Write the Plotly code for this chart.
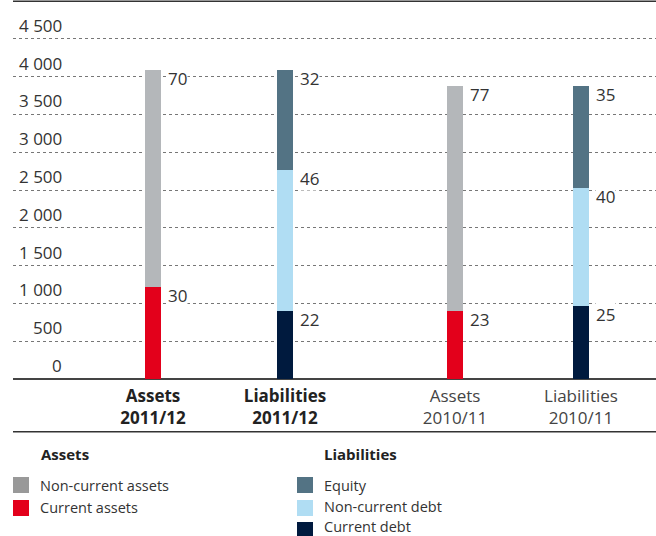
import plotly.graph_objects as go

# Balance sheet structure, EUR million
years = ["2011/12", "2010/11"]
current_assets = [1215, 900]
non_current_assets = [2870, 2980]
current_debt = [895, 970]
non_current_debt = [1875, 1555]
equity = [1315, 1355]

y_ticks = [0, 500, 1000, 1500, 2000, 2500, 3000, 3500, 4000, 4500]
y_tick_text = ["0", "500", "1 000", "1 500", "2 000", "2 500", "3 000", "3 500", "4 000", "4 500"]

# slot of each column on the x axis: (assets, liabilities) per year
slots = [(0.0, 1.0), (2.288, 3.242)]

C_NONCUR_ASSETS = "#b4b7ba"
C_NONCUR_ASSETS_KEY = "#999999"
C_CUR_ASSETS = "#e3001b"
C_EQUITY = "#537384"
C_NONCUR_DEBT = "#b0ddf3"
C_CUR_DEBT = "#001a3e"
TXT = "#333333"
FONT = "Open Sans"

W, H = 656, 536
ML, MR, MT, MB = 13, 0, 1, 157
PW, PH = W - ML - MR, H - MT - MB


def px_x(px):
    return (px - ML) / PW


def px_y(py):
    return (H - MB - py) / PH


fig = go.Figure()

bar_w = 16 / 132
asset_x = [s[0] for s in slots]
liab_x = [s[1] for s in slots]

series = [
    (asset_x, current_assets, C_CUR_ASSETS),
    (asset_x, non_current_assets, C_NONCUR_ASSETS),
    (liab_x, current_debt, C_CUR_DEBT),
    (liab_x, non_current_debt, C_NONCUR_DEBT),
    (liab_x, equity, C_EQUITY),
]
for xs, vals, col in series:
    fig.add_trace(go.Bar(x=xs, y=vals, width=bar_w, marker=dict(color=col, line=dict(width=0)),
                         showlegend=False, hoverinfo="skip"))

annotations = []


def share_labels(xs, stacks):
    for i, x in enumerate(xs):
        total = sum(s[i] for s in stacks)
        base = 0
        for s in stacks:
            top = base + s[i]
            annotations.append(dict(
                x=x, y=top, xref="x", yref="y", xanchor="left", yanchor="top",
                xshift=14, yshift=4, text=str(round(100 * s[i] / total)), showarrow=False,
                font=dict(family=FONT, size=17, color=TXT), bgcolor="white", borderpad=0))
            base = top


share_labels(asset_x, [current_assets, non_current_assets])
share_labels(liab_x, [current_debt, non_current_debt, equity])

# y tick labels sit above their gridlines
for v, t in zip(y_ticks, y_tick_text):
    annotations.append(dict(x=px_x(64), y=v, xref="paper", yref="y", xanchor="right", yanchor="bottom",
                            yshift=0, text=t, showarrow=False,
                            font=dict(family=FONT, size=17, color=TXT)))

# key
def key_header(px, py, text):
    annotations.append(dict(x=px_x(px - 3), y=px_y(py), xref="paper", yref="paper", xanchor="left",
                            yanchor="middle", text="<b>%s</b>" % text, showarrow=False,
                            font=dict(family=FONT, size=15, color="#222222")))


shapes = []


def key_item(px, py, color, text, text_py):
    shapes.append(dict(type="rect", xref="paper", yref="paper", x0=px_x(px), x1=px_x(px + 16),
                       y0=px_y(py - 8), y1=px_y(py + 8), fillcolor=color, line=dict(width=0)))
    annotations.append(dict(x=px_x(px + 26), y=px_y(text_py), xref="paper", yref="paper",
                            xanchor="left", yanchor="middle", text=text, showarrow=False,
                            borderpad=0, font=dict(family=FONT, size=14.5, color=TXT)))


key_header(42, 454, "Assets")
key_item(13, 485, C_NONCUR_ASSETS_KEY, "Non-current assets", 485)
key_item(13, 508, C_CUR_ASSETS, "Current assets", 507)
key_header(325, 454, "Liabilities")
key_item(297, 485, C_EQUITY, "Equity", 485)
key_item(297, 508, C_NONCUR_DEBT, "Non-current debt", 506)
key_item(297, 530, C_CUR_DEBT, "Current debt", 526.5)

# rules at the top and beneath the column captions
shapes.append(dict(type="line", xref="paper", yref="paper", x0=0, x1=1, y0=px_y(1.3), y1=px_y(1.3),
                   line=dict(color="#333333", width=1.5)))
shapes.append(dict(type="line", xref="paper", yref="paper", x0=0, x1=1, y0=px_y(431.7), y1=px_y(431.7),
                   line=dict(color="#333333", width=1.5)))

tick_vals = []
tick_text = []
for (ax, lx), yr, bold in zip(slots, years, [True, False]):
    for x, name in ((ax, "Assets"), (lx, "Liabilities")):
        tick_vals.append(x)
        if bold:
            tick_text.append("<b><span style='color:#222222'>%s<br>%s</span></b>" % (name, yr))
        else:
            tick_text.append("<span style='color:#444444'>%s<br>%s</span>" % (name, yr))

fig.update_layout(
    width=W, height=H,
    margin=dict(l=ML, r=MR, t=MT, b=MB, pad=0),
    paper_bgcolor="white", plot_bgcolor="white",
    barmode="stack", bargap=0,
    font=dict(family=FONT, color=TXT),
    xaxis=dict(range=[-140 / 132, (PW - 140) / 132], tickvals=tick_vals, ticktext=tick_text,
               showgrid=False, zeroline=False, ticks="", tickfont=dict(family=FONT, size=17),
               ticklabelstandoff=5, showline=False, fixedrange=True),
    yaxis=dict(range=[0, 5000], tickvals=y_ticks, showticklabels=False, ticks="",
               showgrid=True, gridcolor="#777777", gridwidth=1, griddash="dot",
               zeroline=True, zerolinecolor="#444444", zerolinewidth=1.5,
               showline=False, fixedrange=True),
    annotations=annotations,
    shapes=shapes,
)

fig.write_html("out.html")
